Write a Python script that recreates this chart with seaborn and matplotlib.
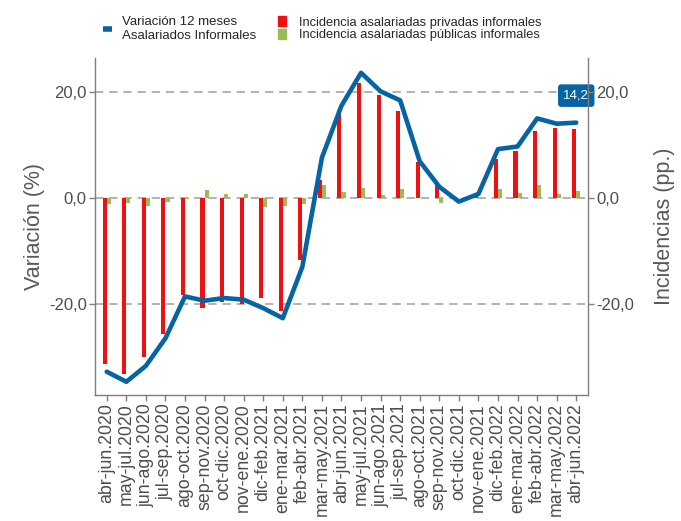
import numpy as np
import pandas as pd
import seaborn as sns
import matplotlib.pyplot as plt
from matplotlib.lines import Line2D
from matplotlib.patches import Patch

periodos = ['abr-jun.2020', 'may-jul.2020', 'jun-ago.2020', 'jul-sep.2020', 'ago-oct.2020',
            'sep-nov.2020', 'oct-dic.2020', 'nov-ene.2020', 'dic-feb.2021', 'ene-mar.2021',
            'feb-abr.2021', 'mar-may.2021', 'abr-jun.2021', 'may-jul.2021', 'jun-ago.2021',
            'jul-sep.2021', 'ago-oct.2021', 'sep-nov.2021', 'oct-dic.2021', 'nov-ene.2021',
            'dic-feb.2022', 'ene-mar.2022', 'feb-abr.2022', 'mar-may.2022', 'abr-jun.2022']

# Variacion 12 meses asalariados informales (%)
variacion = [-32.8, -34.7, -31.7, -26.5, -18.6, -19.4, -18.9, -19.2, -20.8, -22.7, -13.0, 7.6, 17.4,
             23.6, 20.1, 18.4, 6.9, 2.1, -0.7, 0.75, 9.2, 9.7, 15.0, 14.0, 14.2]
# Incidencias (pp.)
privadas = [-31.3, -33.2, -30.1, -25.7, -18.4, -20.8, -19.7, -20.1, -18.9, -21.3, -11.8, 3.4, 16.6,
            21.6, 19.4, 16.4, 6.8, 2.8, 0.0, 0.3, 7.4, 8.8, 12.6, 13.2, 13.0]
publicas = [-1.1, -1.0, -1.5, -0.8, -0.3, 1.5, 0.8, 0.8, -1.7, -1.5, -1.1, 2.5, 1.1,
            1.9, 0.6, 1.75, 0.05, -1.0, 0.0, 0.0, 1.75, 0.9, 2.5, 0.7, 1.3]

lbl_priv = 'Incidencia asalariadas privadas informales'
lbl_pub = 'Incidencia asalariadas públicas informales'
lbl_var = 'Variación 12 meses\nAsalariados Informales'

azul = '#0564A4'
rojo = '#EE1111'
verde = '#9BBB59'
gris = '#7F7F7F'
texto = '#4D4D4D'

sns.set_theme(style='white')
plt.rcParams['font.family'] = ['Liberation Sans', 'DejaVu Sans']

df = pd.DataFrame({
    'periodo': periodos * 2,
    'valor': privadas + publicas,
    'serie': [lbl_priv] * len(periodos) + [lbl_pub] * len(periodos),
})

fig = plt.figure(figsize=(6.81, 5.21), dpi=100)
ax = fig.add_axes([0.1395, 0.2418, 0.7239, 0.6469])

sns.barplot(data=df, x='periodo', y='valor', hue='serie', hue_order=[lbl_priv, lbl_pub],
            palette=[rojo, verde], width=0.42, saturation=1, errorbar=None,
            legend=False, ax=ax, zorder=2, linewidth=0, edgecolor='none')
sns.lineplot(x=np.arange(len(periodos)), y=variacion, ax=ax, color=azul,
             linewidth=3.3, zorder=3)

ax.set_xlim(-0.6, 24.6)
ax.set_ylim(-37.2, 26.4)
yt = [-20, 0, 20]
ax.set_yticks(yt)
ax.set_yticklabels([f'{v:.1f}'.replace('.', ',') for v in yt])
for v in yt:
    ax.axhline(v, color='#A6A6A6', lw=1.2, ls=(0, (5, 3.5)), zorder=1)

ax.set_xticks(range(len(periodos)))
ax.set_xticklabels(periodos, rotation=90, fontsize=12.8, color=texto)
ax.set_xlabel('')
ax.set_ylabel('Variación (%)', fontsize=15.5, color='#595959', labelpad=3)
ax.tick_params(axis='y', labelsize=12, labelcolor=texto)
ax.tick_params(direction='out', length=4, width=1, color=gris, pad=2,
               left=True, bottom=True)
for s in ['top', 'right']:
    ax.spines[s].set_visible(False)
for s in ['left', 'bottom']:
    ax.spines[s].set_color(gris)
    ax.spines[s].set_linewidth(1)

# right axis for the incidences, same scale
ax2 = ax.twinx()
ax2.set_ylim(ax.get_ylim())
ax2.set_yticks(yt)
ax2.set_yticklabels([f'{v:.1f}'.replace('.', ',') for v in yt])
ax2.tick_params(axis='y', labelsize=12, labelcolor=texto, direction='out',
                length=4, width=1, color=gris, pad=2, right=True)
ax2.set_ylabel('Incidencias (pp.)', fontsize=15.5, color='#595959', labelpad=14)
ax2.grid(False)
for s in ['top', 'left', 'bottom']:
    ax2.spines[s].set_visible(False)
ax2.spines['right'].set_color(gris)
ax2.spines['right'].set_linewidth(1)

# last value label
ultimo = variacion[-1]
ax.text(len(periodos) - 1, 19.3, f'{ultimo:.1f}'.replace('.', ','), color='white',
        fontsize=9.5, ha='center', va='center', zorder=4, clip_on=False,
        bbox=dict(boxstyle='round,pad=0.4,rounding_size=0.25', fc=azul, ec='none'))

# legends
h1 = [Line2D([0], [0], color=azul, lw=4, solid_capstyle='butt')]
fig.legend(handles=h1, labels=[lbl_var], loc='upper left', bbox_to_anchor=(103 / 681, 0.969),
           frameon=False, fontsize=9.5, handlelength=0.65, handletextpad=0.8,
           borderpad=0, borderaxespad=0)
h2 = [Patch(color=rojo), Patch(color=verde)]
fig.legend(handles=h2, labels=[lbl_priv, lbl_pub], loc='upper left',
           bbox_to_anchor=(278 / 681, 0.969), frameon=False, fontsize=9.25,
           handlelength=0.65, handleheight=0.85, handletextpad=1.0, labelspacing=0.0,
           borderpad=0, borderaxespad=0)

fig.savefig('out.png', dpi=100)
plt.close(fig)
